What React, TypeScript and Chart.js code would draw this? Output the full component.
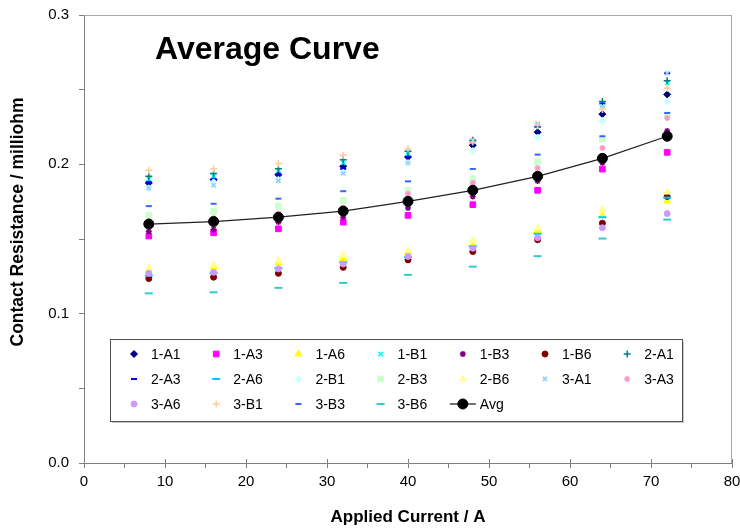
import React, { useEffect, useRef } from 'react';
import { Chart, registerables } from 'chart.js';
import { drawPoint } from 'chart.js/helpers';

Chart.register(...registerables);

// ---------- data ----------
const currents = [8, 16, 24, 32, 40, 48, 56, 64, 72];

const s1A1 = [0.1875, 0.1897, 0.1931, 0.1987, 0.2049, 0.2128, 0.2215, 0.2336, 0.2468];
const s1A3 = [0.152, 0.1542, 0.1568, 0.1613, 0.1658, 0.173, 0.1826, 0.1968, 0.208];
const s1A6 = [0.129, 0.1315, 0.134, 0.137, 0.141, 0.1455, 0.1557, 0.1658, 0.1754];
const s1B1 = [0.19, 0.192, 0.196, 0.201, 0.207, 0.215, 0.226, 0.24, 0.2546];
const s1B3 = [0.155, 0.1564, 0.1613, 0.1646, 0.1707, 0.1785, 0.1888, 0.201, 0.2224];
const s1B6 = [0.1235, 0.1244, 0.127, 0.131, 0.136, 0.1416, 0.1495, 0.1606, 0.1785];
const s2A1 = [0.192, 0.1938, 0.1971, 0.2031, 0.2087, 0.2161, 0.225, 0.242, 0.256];
const s2A3 = [0.188, 0.19, 0.193, 0.197, 0.205, 0.215, 0.2257, 0.2407, 0.261];
const s2A6 = [0.1255, 0.127, 0.1305, 0.1344, 0.1378, 0.1452, 0.1535, 0.1646, 0.1777];
const s2B1 = [0.184, 0.188, 0.1897, 0.1944, 0.2009, 0.209, 0.218, 0.229, 0.242];
const s2B3 = [0.166, 0.1685, 0.172, 0.1758, 0.1826, 0.1904, 0.2015, 0.2168, 0.233];
const s2B6 = [0.131, 0.1325, 0.1355, 0.139, 0.1426, 0.149, 0.1573, 0.1696, 0.1814];
const s3A1 = [0.184, 0.186, 0.189, 0.194, 0.201, 0.2161, 0.2273, 0.239, 0.261];
const s3A3 = [0.162, 0.164, 0.167, 0.171, 0.1803, 0.1875, 0.1975, 0.211, 0.231];
const s3A6 = [0.127, 0.1277, 0.13, 0.1333, 0.1383, 0.1438, 0.1508, 0.1575, 0.167];
const s3B1 = [0.196, 0.1971, 0.2005, 0.206, 0.2105, 0.215, 0.226, 0.2367, 0.251];
const s3B3 = [0.172, 0.1736, 0.177, 0.182, 0.1886, 0.1969, 0.2065, 0.2188, 0.2344];
const s3B6 = [0.1136, 0.1143, 0.1173, 0.1206, 0.126, 0.1315, 0.1385, 0.1503, 0.163];
const sAvg = [0.16, 0.1617, 0.1646, 0.1687, 0.1752, 0.1826, 0.192, 0.204, 0.2188];

const seriesNames = [
  '1-A1', '1-A3', '1-A6', '1-B1', '1-B3', '1-B6', '2-A1',
  '2-A3', '2-A6', '2-B1', '2-B3', '2-B6', '3-A1', '3-A3',
  '3-A6', '3-B1', '3-B3', '3-B6', 'Avg',
];
const seriesValues = [
  s1A1, s1A3, s1A6, s1B1, s1B3, s1B6, s2A1,
  s2A3, s2A6, s2B1, s2B3, s2B6, s3A1, s3A3,
  s3A6, s3B1, s3B3, s3B6, sAvg,
];

const chartTitle = 'Average Curve';
const xTitle = 'Applied Current / A';
const yTitle = 'Contact Resistance / milliohm';

// ---------- styles ----------
const colors = [
  '#000080', '#FF00FF', '#FFFF00', '#00FFFF', '#800080', '#800000', '#008080',
  '#0000FF', '#00CCFF', '#CCFFFF', '#CCFFCC', '#FFFF99', '#99CCFF', '#FF99CC',
  '#CC99FF', '#FFCC99', '#3366FF', '#33CCCC', '#000000',
];
type MStyle = { style: string; r: number; bw: number; fill: boolean };
const markerCycle: MStyle[] = [
  { style: 'rectRot', r: 3.5, bw: 1, fill: true },
  { style: 'rect', r: 4, bw: 1, fill: true },
  { style: 'triangle', r: 4, bw: 1, fill: true },
  { style: 'crossRot', r: 3, bw: 1.5, fill: false },
  { style: 'star', r: 3, bw: 1.5, fill: false },
  { style: 'circle', r: 3, bw: 1, fill: true },
  { style: 'cross', r: 3.5, bw: 1.5, fill: false },
  { style: 'line', r: 3, bw: 2, fill: false },
  { style: 'line', r: 4, bw: 2, fill: false },
];
const markerFor = (i: number): MStyle =>
  i === seriesNames.length - 1 ? { style: 'circle', r: 5, bw: 1, fill: true } : markerCycle[i % 9];

const FONT = "'Liberation Sans', Arial, sans-serif";

const LEGEND = { x: 110, y: 339, w: 572, h: 82, col0: 134, colW: 82.2, row0: 354, rowH: 25, perRow: 7 };

const framePlugin = {
  id: 'frame',
  beforeDatasetsDraw(chart: any) {
    const { ctx, chartArea: a, scales } = chart;
    ctx.save();
    ctx.strokeStyle = '#a8a8a8';
    ctx.lineWidth = 1;
    ctx.beginPath();
    ctx.moveTo(a.left, Math.round(a.top) + 0.5);
    ctx.lineTo(a.right, Math.round(a.top) + 0.5);
    ctx.moveTo(Math.round(a.right) - 0.5, a.top);
    ctx.lineTo(Math.round(a.right) - 0.5, a.bottom);
    ctx.stroke();
    // inward part of the major x ticks (they cross the axis)
    ctx.strokeStyle = '#808080';
    ctx.beginPath();
    for (let v = 10; v <= 80; v += 10) {
      const px = Math.round(scales.x.getPixelForValue(v)) + 0.5;
      ctx.moveTo(px, a.bottom);
      ctx.lineTo(px, a.bottom - 4);
    }
    ctx.stroke();
    ctx.restore();
  },
};

const overlayPlugin = {
  id: 'overlay',
  afterDraw(chart: any) {
    const ctx = chart.ctx as CanvasRenderingContext2D;
    ctx.save();
    // title
    ctx.fillStyle = '#000';
    ctx.font = `bold 32px ${FONT}`;
    ctx.textBaseline = 'middle';
    ctx.textAlign = 'left';
    ctx.fillText(chartTitle, 155, 50);

    // y axis title
    ctx.save();
    ctx.translate(18, 222);
    ctx.rotate(-Math.PI / 2);
    ctx.textAlign = 'center';
    ctx.font = `bold 17.5px ${FONT}`;
    ctx.fillText(yTitle, 0, 0);
    ctx.restore();

    // legend box
    const L = LEGEND;
    ctx.fillStyle = '#c8c8c8';
    ctx.fillRect(L.x + 2, L.y + 2, L.w, L.h);
    ctx.fillStyle = '#ffffff';
    ctx.fillRect(L.x, L.y, L.w, L.h);
    ctx.strokeStyle = '#505050';
    ctx.lineWidth = 1;
    ctx.strokeRect(L.x + 0.5, L.y + 0.5, L.w, L.h);

    ctx.font = `14px ${FONT}`;
    ctx.textBaseline = 'middle';
    ctx.textAlign = 'left';
    seriesNames.forEach((name, i) => {
      const cx = L.col0 + (i % L.perRow) * L.colW;
      const cy = L.row0 + Math.floor(i / L.perRow) * L.rowH;
      const m = markerFor(i);
      const c = colors[i];
      if (name === 'Avg') {
        ctx.strokeStyle = '#222';
        ctx.lineWidth = 1.3;
        ctx.beginPath();
        ctx.moveTo(cx - 13, cy);
        ctx.lineTo(cx + 13, cy);
        ctx.stroke();
      }
      ctx.fillStyle = c;
      ctx.strokeStyle = c;
      ctx.lineWidth = m.bw;
      drawPoint(ctx, { pointStyle: m.style as any, radius: m.r, rotation: 0, borderWidth: m.bw }, cx, cy);
      ctx.fillStyle = '#000';
      ctx.fillText(name, cx + 17, cy + 1);
    });
    ctx.restore();
  },
};

export default function App() {
  const ref = useRef<HTMLCanvasElement | null>(null);

  useEffect(() => {
    if (!ref.current) return;
    const n = seriesNames.length;
    const datasets = seriesNames.map((name, i) => {
      const m = markerFor(i);
      const isAvg = name === 'Avg';
      return {
        label: name,
        data: currents.map((x, k) => ({ x, y: seriesValues[i][k] })),
        showLine: isAvg,
        borderColor: isAvg ? '#222' : colors[i],
        borderWidth: isAvg ? 1.3 : 0,
        backgroundColor: m.fill ? colors[i] : 'rgba(0,0,0,0)',
        pointStyle: m.style as any,
        pointRadius: m.r,
        pointHoverRadius: m.r,
        pointBorderColor: colors[i],
        pointBackgroundColor: m.fill ? colors[i] : 'rgba(0,0,0,0)',
        pointBorderWidth: m.bw,
        order: n - i,
      };
    });

    const chart = new Chart(ref.current, {
      type: 'scatter',
      data: { datasets },
      plugins: [framePlugin, overlayPlugin],
      options: {
        animation: false,
        responsive: false,
        devicePixelRatio: 1,
        layout: { padding: { top: 15, right: 8, left: 0, bottom: 0 } },
        plugins: { legend: { display: false }, tooltip: { enabled: false }, title: { display: false } },
        scales: {
          x: {
            type: 'linear',
            min: 0,
            max: 80,
            afterFit: (s: any) => {
              s.height = 66;
              s.paddingLeft = 0;
              s.paddingRight = 0;
            },
            ticks: {
              stepSize: 5,
              autoSkip: false,
              maxRotation: 0,
              color: '#000',
              font: { family: FONT, size: 15 },
              padding: 5,
              callback: (v: any) => (Number(v) % 10 === 0 ? String(v) : ''),
            },
            grid: { drawOnChartArea: false, drawTicks: true, tickLength: 5, tickColor: '#808080' },
            border: { color: '#808080', width: 1 },
            title: {
              display: true,
              text: xTitle,
              color: '#000',
              font: { family: FONT, size: 17, weight: 'bold' },
              padding: { top: 0, bottom: 1 },
            },
          },
          y: {
            type: 'linear',
            min: 0,
            max: 0.3,
            afterFit: (s: any) => {
              s.width = 84;
              s.paddingTop = 0;
              s.paddingBottom = 0;
            },
            ticks: {
              stepSize: 0.05,
              autoSkip: false,
              color: '#000',
              font: { family: FONT, size: 15 },
              padding: 10,
              callback: (v: any) => {
                const t = Number(v) * 10;
                return Math.abs(t - Math.round(t)) < 1e-6 ? Number(v).toFixed(1) : '';
              },
            },
            grid: { drawOnChartArea: false, drawTicks: true, tickLength: 5, tickColor: '#808080' },
            border: { color: '#808080', width: 1 },
            title: { display: false },
          },
        },
      },
    });
    return () => chart.destroy();
  }, []);

  return (
    <div style={{ position: 'absolute', left: 0, top: 0, width: 740, height: 529, background: '#fff' }}>
      <canvas ref={ref} width={740} height={529} style={{ display: 'block', width: 740, height: 529 }} />
    </div>
  );
}
